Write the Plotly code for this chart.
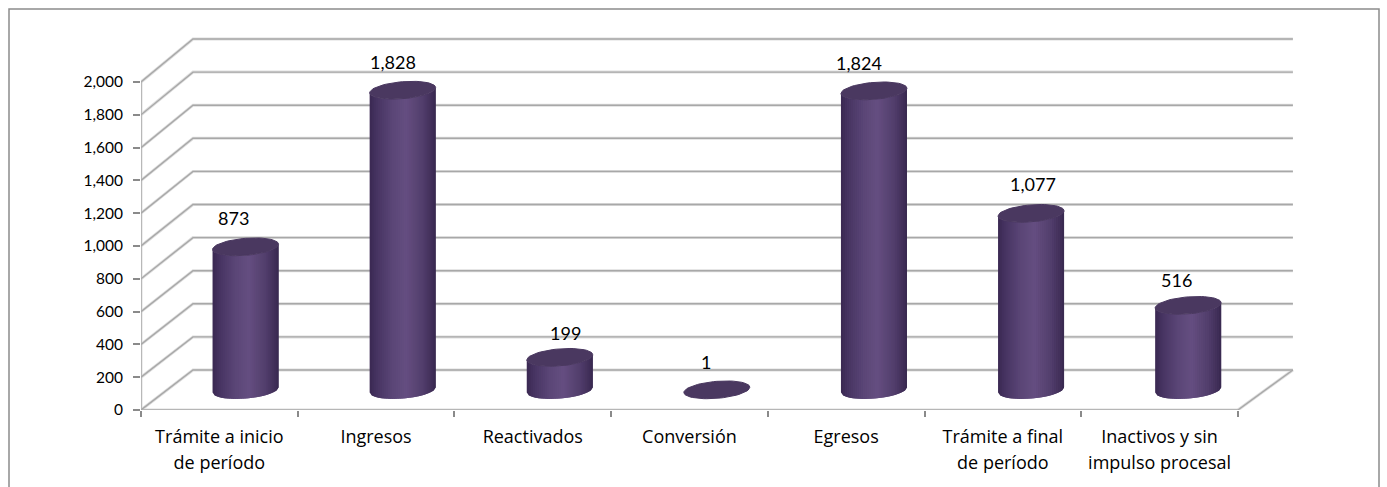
import math
import plotly.graph_objects as go

categories = ["Trámite a inicio de período", "Ingresos", "Reactivados", "Conversión",
              "Egresos", "Trámite a final de período", "Inactivos y sin impulso procesal"]
label_line1 = ["Trámite a inicio", "Ingresos", "Reactivados", "Conversión",
               "Egresos", "Trámite a final", "Inactivos y sin"]
label_line2 = ["de período", "", "", "", "", "de período", "impulso procesal"]
values = [873, 1828, 199, 1, 1824, 1077, 516]
value_ticks = [0, 200, 400, 600, 800, 1000, 1200, 1400, 1600, 1800, 2000]

# --- layout constants (pixels) ---
W, H = 1387, 487
PX_X0, PX_X1 = 141, 1300       # plot area left / right
PX_Y0, PX_Y1 = 410, 30         # plot area bottom / top
PX_PER_CAT = 156.7
BAR_PITCH = 157.1 / PX_PER_CAT  # cylinders sit slightly wider apart than the floor ticks
PX_PER_VAL = 328 / 2000
BACK_SCALE = 33.1 / 32.8        # back wall is a touch taller than the front edge
DEPTH_X_PX, DEPTH_Y_PX = 52, 40
R_X_PX, R_Y_PX, SHEAR_PX = 33, 8.5, 2.6
NUM_FONT = "Lato"
CAT_FONT = "Open Sans"
FS_AXIS, FS_DATA, FS_CAT = 15.5, 18, 18

x_max = (PX_X1 - PX_X0) / PX_PER_CAT
y_max = (PX_Y0 - PX_Y1) / PX_PER_VAL
dx = DEPTH_X_PX / PX_PER_CAT
dy = DEPTH_Y_PX / PX_PER_VAL
rx = R_X_PX / PX_PER_CAT
ry = R_Y_PX / PX_PER_VAL
sh = SHEAR_PX / PX_PER_VAL
n = len(categories)
back_end = n + dx + 3 / PX_PER_CAT

fig = go.Figure()


def line(xs, ys, color, width):
    fig.add_trace(go.Scatter(x=xs, y=ys, mode="lines", hoverinfo="skip", showlegend=False,
                             line=dict(color=color, width=width), cliponaxis=False))


# walls and floor
gx, gy = [], []
for v in value_ticks:
    gx += [0, dx, back_end, None]
    gy += [v, v * BACK_SCALE + dy, v * BACK_SCALE + dy, None]
gx += [n, back_end, None]
gy += [0, dy, None]
gx += [0, 0, None, 0, n]
gy += [0, 2000, None, 0, 0]
line(gx, gy, "#dedede", 3)
line(gx, gy, "#a8a8a8", 1.4)


def bar_cx(i):
    return (0.5 + dx / (2 * BAR_PITCH) + i) * BAR_PITCH


# cylinders: vertical gradient strips, painted left to right with overlap
stops = [(0.0, (58, 40, 82)), (0.12, (72, 53, 99)), (0.35, (91, 70, 119)), (0.55, (101, 78, 129)),
         (0.8, (82, 62, 108)), (0.95, (64, 46, 88)), (1.0, (56, 40, 78))]


def grad(f):
    for (a, ca), (b, cb) in zip(stops, stops[1:]):
        if f <= b:
            u = (f - a) / (b - a)
            return "#%02x%02x%02x" % tuple(round(p + (q - p) * u) for p, q in zip(ca, cb))
    return "#%02x%02x%02x" % stops[-1][1]


N_STRIPS = 33


def lower(t):
    return ry * math.sin(t) + sh * math.cos(t)


for k in range(N_STRIPS):
    xs, ys = [], []
    c0 = -1 + 2 * k / N_STRIPS
    c1 = min(1.0, -1 + 2 * (k + 2) / N_STRIPS)
    cm = min(1.0, -1 + 2 * (k + 1) / N_STRIPS)
    t0 = 2 * math.pi - math.acos(c0)
    tm = 2 * math.pi - math.acos(cm)
    t1 = 2 * math.pi - math.acos(c1)
    for i, v in enumerate(values):
        if v < 20:
            continue
        cx = bar_cx(i)
        cb = dy / 2
        ct = v + dy / 2
        xs += [cx + rx * c0, cx + rx * cm, cx + rx * c1, cx + rx * c1, cx + rx * cm, cx + rx * c0, cx + rx * c0, None]
        ys += [cb + lower(t0), cb + lower(tm), cb + lower(t1), ct + lower(t1), ct + lower(tm), ct + lower(t0),
               cb + lower(t0), None]
    col = grad((k + 0.5) / N_STRIPS)
    fig.add_trace(go.Scatter(x=xs, y=ys, mode="lines", fill="toself", fillcolor=col,
                             line=dict(color=col, width=0), hoverinfo="skip", showlegend=False))

# cylinder tops
ex, ey = [], []
for i, v in enumerate(values):
    cx = bar_cx(i)
    ct = v + dy / 2
    for a in range(61):
        t = 2 * math.pi * a / 60
        ex.append(cx + rx * math.cos(t))
        ey.append(ct + lower(t))
    ex.append(None)
    ey.append(None)
fig.add_trace(go.Scatter(x=ex, y=ey, mode="lines", fill="toself", fillcolor="#4a3860",
                         line=dict(color="#4a3860", width=1), hoverinfo="skip", showlegend=False))

# data labels (nudged as in the reference)
label_dx_px = [-12, -10, 6, -11, -15, 2, -12]
label_dy_px = [29, 28, 24, 28, 28, 29, 25]
for i, v in enumerate(values):
    fig.add_annotation(x=bar_cx(i), y=v + dy / 2, text=f"{v:,}", showarrow=False,
                       xshift=label_dx_px[i], yshift=label_dy_px[i],
                       font=dict(family=NUM_FONT, size=FS_DATA, color="#000000"))

# second axis: second line of the category labels
fig.add_trace(go.Scatter(x=[0], y=[0], xaxis="x2", mode="markers", marker=dict(opacity=0),
                         hoverinfo="skip", showlegend=False))

cat_pos = [i + 0.5 for i in range(n)]
fig.update_layout(
    width=W, height=H,
    margin=dict(l=PX_X0, r=W - PX_X1, t=PX_Y1, b=H - PX_Y0, autoexpand=False),
    paper_bgcolor="#ffffff", plot_bgcolor="#ffffff",
    showlegend=False,
    font=dict(family=NUM_FONT, size=FS_AXIS, color="#000000"),
    xaxis=dict(range=[0, x_max], showgrid=False, zeroline=False, showline=False,
               tickmode="array", tickvals=cat_pos, ticktext=label_line1, ticks="",
               ticklabelstandoff=14, tickangle=0,
               minor=dict(tickmode="array", tickvals=list(range(n + 1)), ticks="outside",
                          ticklen=6, tickwidth=1.5, tickcolor="#8a8a8a"),
               tickfont=dict(family=CAT_FONT, size=FS_CAT, color="#000000")),
    xaxis2=dict(range=[0, x_max], overlaying="x", side="bottom", anchor="y", showgrid=False,
                zeroline=False, showline=False, tickmode="array", tickvals=cat_pos,
                ticktext=label_line2, ticks="", ticklabelstandoff=40, tickangle=0,
                tickfont=dict(family=CAT_FONT, size=FS_CAT, color="#000000")),
    yaxis=dict(range=[0, y_max], showgrid=False, zeroline=False, showline=False,
               tickmode="array", tickvals=value_ticks, ticktext=[f"{v:,}" for v in value_ticks],
               ticks="outside", ticklen=7, tickwidth=1.5, tickcolor="#8a8a8a",
               ticklabelstandoff=7,
               tickfont=dict(family=NUM_FONT, size=FS_AXIS, color="#000000")),
    shapes=[dict(type="rect", xref="paper", yref="paper", layer="below",
                 x0=(9 - PX_X0) / (PX_X1 - PX_X0), x1=(1379 - PX_X0) / (PX_X1 - PX_X0),
                 y0=(PX_Y0 - 510) / (PX_Y0 - PX_Y1), y1=(PX_Y0 - 9) / (PX_Y0 - PX_Y1),
                 line=dict(color="#8c8c8c", width=1.5), fillcolor="rgba(0,0,0,0)")],
)

fig.write_html("out.html", config={"displayModeBar": False},
               post_script="document.body.style.margin='0';document.documentElement.style.overflow='hidden';")
